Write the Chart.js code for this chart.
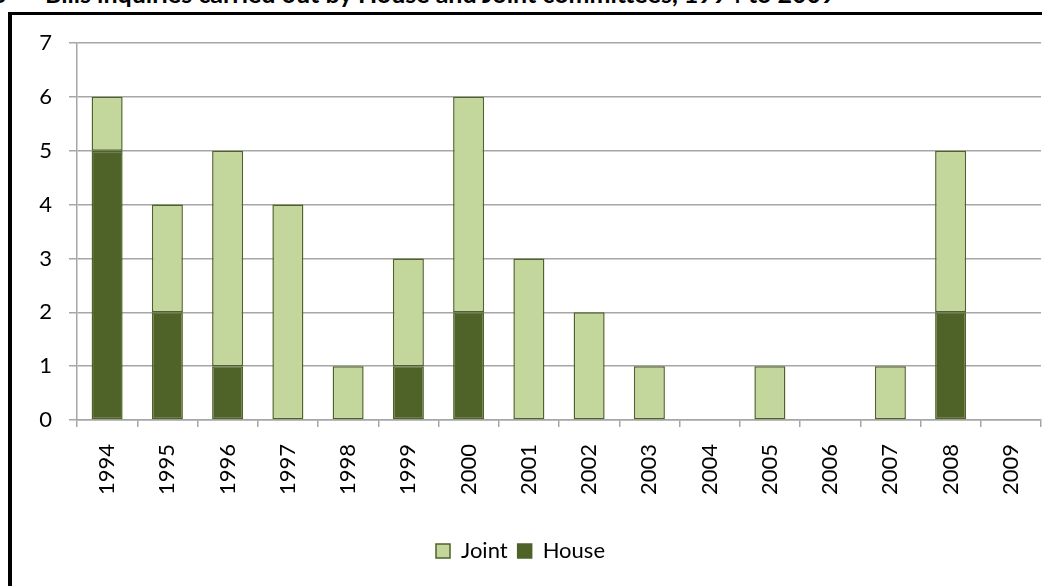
<!DOCTYPE html>
<html>
<head>
<meta charset="utf-8">
<script src="https://cdn.jsdelivr.net/npm/chart.js@4/dist/chart.umd.min.js"></script>
<style>
    html, body { margin: 0; padding: 0; background: #fff; overflow: hidden; }
    body { width: 1042px; height: 586px; position: relative; }
    .caption {
        position: absolute;
        top: -19px;
        left: 0;
        font-family: Lato, sans-serif;
        font-weight: bold;
        font-size: 25px;
        line-height: 25px;
        white-space: nowrap;
        color: #000;
    }
    .caption .num { position: absolute; left: -8px; }
    .caption .text { position: absolute; left: 45px; }
    .frame {
        position: absolute;
        left: 8px;
        top: 12px;
        width: 1100px;
        height: 700px;
        border-left: 4px solid #000;
        border-top: 3px solid #000;
    }
    #chartWrap { position: absolute; left: 0; top: 0; width: 1042px; height: 586px; }
</style>
</head>
<body>
<div class="caption"><span class="num">6</span><span class="text">Bills inquiries carried out by House and Joint committees, 1994 to 2009</span></div>
<div class="frame"></div>
<div id="chartWrap"><canvas id="inquiryChart" width="1042" height="586"></canvas></div>
<script>
// Inquiry counts per year
const years = ['1994', '1995', '1996', '1997', '1998', '1999', '2000', '2001',
               '2002', '2003', '2004', '2005', '2006', '2007', '2008', '2009'];
const houseInquiries = [5, 2, 1, 0, 0, 1, 2, 0, 0, 0, 0, 0, 0, 0, 2, 0];
const jointInquiries = [1, 2, 4, 4, 1, 2, 4, 3, 2, 1, 0, 1, 0, 1, 3, 0];
const yTicks = [0, 1, 2, 3, 4, 5, 6, 7];

const darkGreen = '#4F6228';
const lightGreen = '#C3D69B';
const gridGray = '#A6A6A6';
const labelFont = { family: 'Lato, sans-serif', size: 22 };

// no border on empty segments
const segmentBorder = ctx => (ctx.raw ? 1.5 : 0);

const ctx = document.getElementById('inquiryChart').getContext('2d');
new Chart(ctx, {
    type: 'bar',
    data: {
        labels: years,
        datasets: [
            {
                label: 'House',
                data: houseInquiries,
                backgroundColor: darkGreen,
                borderColor: darkGreen,
                borderWidth: segmentBorder,
                borderSkipped: false
            },
            {
                label: 'Joint',
                data: jointInquiries,
                backgroundColor: lightGreen,
                borderColor: darkGreen,
                borderWidth: segmentBorder,
                borderSkipped: false
            }
        ]
    },
    options: {
        responsive: false,
        animation: false,
        layout: {
            padding: { left: 0, top: 43, right: 1, bottom: 14 }
        },
        datasets: {
            bar: {
                categoryPercentage: 1,
                barPercentage: 0.515
            }
        },
        plugins: {
            legend: {
                position: 'bottom',
                reverse: true,
                labels: {
                    color: '#000',
                    font: labelFont,
                    boxWidth: 14,
                    boxHeight: 14,
                    padding: 10,
                    generateLabels: function(chart) {
                        const items = Chart.defaults.plugins.legend.labels.generateLabels(chart);
                        items.forEach(item => { item.lineWidth = 1.5; });
                        return items;
                    }
                }
            },
            tooltip: { enabled: false }
        },
        scales: {
            x: {
                stacked: true,
                grid: {
                    drawOnChartArea: false,
                    drawTicks: true,
                    tickLength: 7,
                    color: gridGray,
                    lineWidth: 1.5,
                    offset: true
                },
                border: { color: gridGray, width: 1.5 },
                ticks: {
                    color: '#000',
                    font: labelFont,
                    minRotation: 90,
                    maxRotation: 90,
                    autoSkip: false,
                    padding: 17
                },
                afterFit: function(scale) {
                    scale.height = 110;
                    // let the plot run right up to the canvas edge
                    scale.paddingLeft = 0;
                    scale.paddingRight = 0;
                }
            },
            y: {
                stacked: true,
                min: 0,
                max: 7,
                grid: {
                    color: gridGray,
                    lineWidth: 1.5,
                    tickLength: 8
                },
                border: { color: gridGray, width: 1.5 },
                afterBuildTicks: function(scale) {
                    scale.ticks = yTicks.map(v => ({ value: v }));
                },
                ticks: {
                    color: '#000',
                    font: labelFont,
                    padding: 17
                },
                afterFit: function(scale) {
                    scale.width = 77;
                }
            }
        }
    }
});
</script>
</body>
</html>
